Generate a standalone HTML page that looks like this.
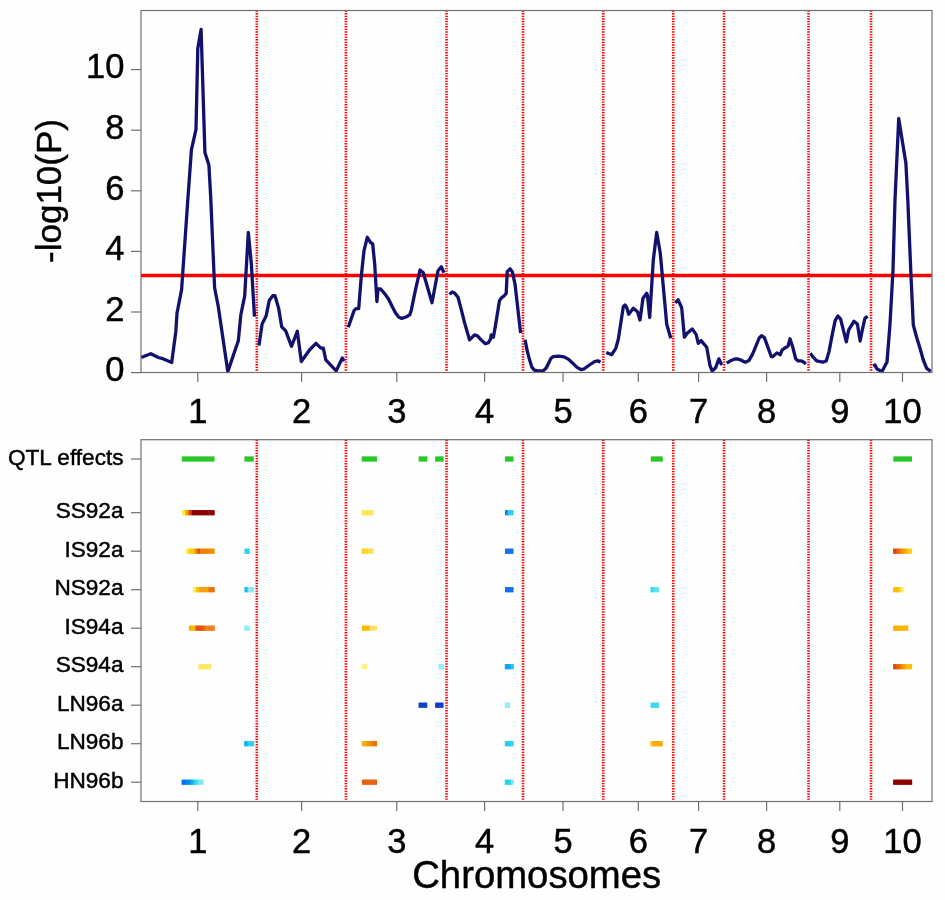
<!DOCTYPE html><html><head><meta charset="utf-8"><style>
html,body{margin:0;padding:0;background:#fefefe;}
svg{display:block;will-change:transform;}
text{font-family:"Liberation Sans", sans-serif;fill:#000;stroke:#000;stroke-width:0.45px;}
</style></head><body>
<svg width="945" height="900" viewBox="0 0 945 900">
<rect x="0" y="0" width="945" height="900" fill="#fefefe"/>
<line x1="256.8" y1="10.5" x2="256.8" y2="372.5" stroke="#f00" stroke-width="2.6" stroke-dasharray="1.35 1.25"/>
<line x1="345.9" y1="10.5" x2="345.9" y2="372.5" stroke="#f00" stroke-width="2.6" stroke-dasharray="1.35 1.25"/>
<line x1="446.5" y1="10.5" x2="446.5" y2="372.5" stroke="#f00" stroke-width="2.6" stroke-dasharray="1.35 1.25"/>
<line x1="523.0" y1="10.5" x2="523.0" y2="372.5" stroke="#f00" stroke-width="2.6" stroke-dasharray="1.35 1.25"/>
<line x1="603.3" y1="10.5" x2="603.3" y2="372.5" stroke="#f00" stroke-width="2.6" stroke-dasharray="1.35 1.25"/>
<line x1="673.2" y1="10.5" x2="673.2" y2="372.5" stroke="#f00" stroke-width="2.6" stroke-dasharray="1.35 1.25"/>
<line x1="724.0" y1="10.5" x2="724.0" y2="372.5" stroke="#f00" stroke-width="2.6" stroke-dasharray="1.35 1.25"/>
<line x1="808.5" y1="10.5" x2="808.5" y2="372.5" stroke="#f00" stroke-width="2.6" stroke-dasharray="1.35 1.25"/>
<line x1="871.0" y1="10.5" x2="871.0" y2="372.5" stroke="#f00" stroke-width="2.6" stroke-dasharray="1.35 1.25"/>
<line x1="141.0" y1="275.5" x2="932.0" y2="275.5" stroke="#ff0000" stroke-width="3.3"/>
<polyline points="141,357.5 150.8,353.7 158.3,357.5 161.7,358.3 171.7,362.5 175.8,331.7 177,313.3 181.6,289.6 187.6,202.8 191.4,149.8 196,129.3 197.8,48.4 201.1,29.5 204.9,152.4 208.9,165 210.7,197.2 214.6,287.7 218.3,306.7 227.8,371.6 238.3,340.8 240.8,315 244.7,295.8 248.3,232.5 251.3,263.3 254.5,316.6" fill="none" stroke="#12126e" stroke-width="3.3" stroke-linejoin="round" stroke-linecap="butt"/>
<polyline points="259,345.5 262.1,324.1 266.1,316.1 269.2,300.6 272.8,295.7 275,295.7 278.6,308.1 281.7,326.8 285.7,330.8 291.5,346.4 297.3,331.3 301.3,361.5 309.9,349.5 316,343.3 320.9,348.2 323.3,348.2 325.8,359.9 336.2,370.9 342.3,358 344.1,361.1" fill="none" stroke="#12126e" stroke-width="3.3" stroke-linejoin="round" stroke-linecap="butt"/>
<polyline points="348.3,327.3 354,310.7 356,308.7 358.7,308.7 361.3,276 364,250.7 367.3,237.3 370.7,242.7 372.7,244 374.7,264 376.9,301.5 378,289 380.6,289 384.8,293.8 388.5,299 392.2,306.5 395.4,312.8 398.6,317 401.7,318.4 406,317 409.7,314.9 411.3,310.2 415.3,290.7 420,270 423.3,272.7 432,302.7 438,270.7 441.3,266.7 444,272.7" fill="none" stroke="#12126e" stroke-width="3.3" stroke-linejoin="round" stroke-linecap="butt"/>
<polyline points="449.5,294.4 452.2,291.9 454.4,292.9 458,297.3 460.9,308.1 464.5,322.5 469.5,339.9 474.6,334.8 477.5,335.9 481.1,339.9 485.4,343.8 488.3,342.8 490.5,339.2 491.2,334.8 493.4,337.3 495.5,325.4 499.5,300.5 502,297.3 504.2,295.8 506.2,293.4 507.2,271.7 510.1,268.8 512.3,271.7 515.1,284.7 520.6,333.1" fill="none" stroke="#12126e" stroke-width="3.3" stroke-linejoin="round" stroke-linecap="butt"/>
<polyline points="525.1,339.7 527,350 529.2,358.6 531.8,367.1 534.3,370.1 537.7,370.9 543.2,370.9 546.2,368 548.7,362.9 550.8,358.6 553,356.7 558.9,356.1 564,356.9 568.2,359.1 572.5,362.9 576.7,367.1 580.9,369.7 584.3,368.8 589.4,365 594.5,361.6 597.9,360.8 600.4,362.2" fill="none" stroke="#12126e" stroke-width="3.3" stroke-linejoin="round" stroke-linecap="butt"/>
<polyline points="606.3,352.5 611.7,354.7 615.8,348.3 618.3,339.2 623.3,306.7 625,305 626.7,307.5 628.7,314.2 633.3,308.3 637.5,311.7 640,320 643,298.3 646.7,293.3 647.5,295.8 649.7,317.5 653.3,260 656.7,232.5 660.3,253.3 666.7,324.2 670.8,338.3" fill="none" stroke="#12126e" stroke-width="3.3" stroke-linejoin="round" stroke-linecap="butt"/>
<polyline points="675.2,302.8 678.1,299.8 681.7,307.8 684.4,337.2 687.2,333.3 692.2,328.9 696.1,334.4 698.3,343.3 701.1,340.6 706.7,347.2 710,365.6 712.2,371.1 715.6,367.8 718.9,358.9 721.7,365" fill="none" stroke="#12126e" stroke-width="3.3" stroke-linejoin="round" stroke-linecap="butt"/>
<polyline points="726.7,363.2 730.4,360.8 735,359 737.8,359 741.6,360.4 745.3,362.2 749,360.4 752.7,353.9 756.5,344.6 759.2,338 761.6,335.6 764.4,337.6 767.6,346.4 771.3,356.7 772.7,356.7 776.9,352.9 780.2,354.8 782.1,350.1 784.4,348.3 786.2,347.3 788.1,346 790,338.8 792.8,347.3 795.6,358.5 797.9,360.8 801.1,360.8 803.9,362.2 805.8,364.1" fill="none" stroke="#12126e" stroke-width="3.3" stroke-linejoin="round" stroke-linecap="butt"/>
<polyline points="810.3,353.3 813,356.9 816.6,360.9 822.8,362.2 826.3,360.9 829,351.6 832.6,332.9 835.2,320.4 837.9,316 840.6,319.1 843.2,329.3 846.3,341.9 848.6,330.2 853.9,321.3 857.4,324 860.1,341 862.8,327.6 865,318.2 867.7,316.4" fill="none" stroke="#12126e" stroke-width="3.3" stroke-linejoin="round" stroke-linecap="butt"/>
<polyline points="873,366 875,365 877,369 882,371.6 887,362 890,324 893,270 895,200 898.7,118.5 905.9,163.3 907.8,200 911,276 913.3,325 916.7,337.5 920,348.3 923.3,360 926.7,368.3 930.8,371.3" fill="none" stroke="#12126e" stroke-width="3.3" stroke-linejoin="round" stroke-linecap="butt"/>
<rect x="141.0" y="10.5" width="791.0" height="362.0" fill="none" stroke="#707070" stroke-width="1.2"/>
<line x1="131" y1="372.6" x2="141.0" y2="372.6" stroke="#707070" stroke-width="1.2"/>
<text x="124.4" y="381.4" font-size="34.5" text-anchor="end">0</text>
<line x1="131" y1="312.0" x2="141.0" y2="312.0" stroke="#707070" stroke-width="1.2"/>
<text x="124.4" y="320.8" font-size="34.5" text-anchor="end">2</text>
<line x1="131" y1="251.4" x2="141.0" y2="251.4" stroke="#707070" stroke-width="1.2"/>
<text x="124.4" y="260.2" font-size="34.5" text-anchor="end">4</text>
<line x1="131" y1="190.8" x2="141.0" y2="190.8" stroke="#707070" stroke-width="1.2"/>
<text x="124.4" y="199.6" font-size="34.5" text-anchor="end">6</text>
<line x1="131" y1="130.2" x2="141.0" y2="130.2" stroke="#707070" stroke-width="1.2"/>
<text x="124.4" y="139.0" font-size="34.5" text-anchor="end">8</text>
<line x1="131" y1="69.6" x2="141.0" y2="69.6" stroke="#707070" stroke-width="1.2"/>
<text x="124.4" y="78.4" font-size="34.5" text-anchor="end">10</text>
<line x1="197.8" y1="372.5" x2="197.8" y2="382" stroke="#707070" stroke-width="1.2"/>
<text x="197.8" y="423.3" font-size="34.5" text-anchor="middle">1</text>
<line x1="301.6" y1="372.5" x2="301.6" y2="382" stroke="#707070" stroke-width="1.2"/>
<text x="301.6" y="423.3" font-size="34.5" text-anchor="middle">2</text>
<line x1="396.8" y1="372.5" x2="396.8" y2="382" stroke="#707070" stroke-width="1.2"/>
<text x="396.8" y="423.3" font-size="34.5" text-anchor="middle">3</text>
<line x1="484.6" y1="372.5" x2="484.6" y2="382" stroke="#707070" stroke-width="1.2"/>
<text x="484.6" y="423.3" font-size="34.5" text-anchor="middle">4</text>
<line x1="563.0" y1="372.5" x2="563.0" y2="382" stroke="#707070" stroke-width="1.2"/>
<text x="563.0" y="423.3" font-size="34.5" text-anchor="middle">5</text>
<line x1="638.3" y1="372.5" x2="638.3" y2="382" stroke="#707070" stroke-width="1.2"/>
<text x="638.3" y="423.3" font-size="34.5" text-anchor="middle">6</text>
<line x1="698.6" y1="372.5" x2="698.6" y2="382" stroke="#707070" stroke-width="1.2"/>
<text x="698.6" y="423.3" font-size="34.5" text-anchor="middle">7</text>
<line x1="766.6" y1="372.5" x2="766.6" y2="382" stroke="#707070" stroke-width="1.2"/>
<text x="766.6" y="423.3" font-size="34.5" text-anchor="middle">8</text>
<line x1="839.8" y1="372.5" x2="839.8" y2="382" stroke="#707070" stroke-width="1.2"/>
<text x="839.8" y="423.3" font-size="34.5" text-anchor="middle">9</text>
<line x1="902.5" y1="372.5" x2="902.5" y2="382" stroke="#707070" stroke-width="1.2"/>
<text x="902.5" y="423.3" font-size="34.5" text-anchor="middle">10</text>
<text transform="translate(61,191) rotate(-90)" font-size="35" text-anchor="middle">-log10(P)</text>
<line x1="256.8" y1="439.7" x2="256.8" y2="801.5" stroke="#f00" stroke-width="2.6" stroke-dasharray="1.35 1.25"/>
<line x1="345.9" y1="439.7" x2="345.9" y2="801.5" stroke="#f00" stroke-width="2.6" stroke-dasharray="1.35 1.25"/>
<line x1="446.5" y1="439.7" x2="446.5" y2="801.5" stroke="#f00" stroke-width="2.6" stroke-dasharray="1.35 1.25"/>
<line x1="523.0" y1="439.7" x2="523.0" y2="801.5" stroke="#f00" stroke-width="2.6" stroke-dasharray="1.35 1.25"/>
<line x1="603.3" y1="439.7" x2="603.3" y2="801.5" stroke="#f00" stroke-width="2.6" stroke-dasharray="1.35 1.25"/>
<line x1="673.2" y1="439.7" x2="673.2" y2="801.5" stroke="#f00" stroke-width="2.6" stroke-dasharray="1.35 1.25"/>
<line x1="724.0" y1="439.7" x2="724.0" y2="801.5" stroke="#f00" stroke-width="2.6" stroke-dasharray="1.35 1.25"/>
<line x1="808.5" y1="439.7" x2="808.5" y2="801.5" stroke="#f00" stroke-width="2.6" stroke-dasharray="1.35 1.25"/>
<line x1="871.0" y1="439.7" x2="871.0" y2="801.5" stroke="#f00" stroke-width="2.6" stroke-dasharray="1.35 1.25"/>
<rect x="181.80" y="456.35" width="32.70" height="5.30" fill="#2ac62a"/>
<rect x="244.40" y="456.35" width="9.40" height="5.30" fill="#2ac62a"/>
<rect x="361.70" y="456.35" width="15.30" height="5.30" fill="#2ac62a"/>
<rect x="418.60" y="456.35" width="8.80" height="5.30" fill="#2ac62a"/>
<rect x="435.10" y="456.35" width="8.60" height="5.30" fill="#2ac62a"/>
<rect x="505.00" y="456.35" width="8.60" height="5.30" fill="#2ac62a"/>
<rect x="650.80" y="456.35" width="12.00" height="5.30" fill="#2ac62a"/>
<rect x="893.30" y="456.35" width="18.70" height="5.30" fill="#2ac62a"/>
<rect x="182.00" y="510.05" width="3.87" height="5.30" fill="#f8ec50"/>
<rect x="185.27" y="510.05" width="3.87" height="5.30" fill="#f5a000"/>
<rect x="188.54" y="510.05" width="3.87" height="5.30" fill="#d84010"/>
<rect x="191.81" y="510.05" width="3.87" height="5.30" fill="#8c0000"/>
<rect x="195.08" y="510.05" width="3.87" height="5.30" fill="#8a0000"/>
<rect x="198.35" y="510.05" width="3.87" height="5.30" fill="#8a0000"/>
<rect x="201.62" y="510.05" width="3.87" height="5.30" fill="#900000"/>
<rect x="204.89" y="510.05" width="3.87" height="5.30" fill="#8c0000"/>
<rect x="208.16" y="510.05" width="3.87" height="5.30" fill="#960808"/>
<rect x="211.43" y="510.05" width="3.27" height="5.30" fill="#8c0000"/>
<rect x="361.70" y="510.05" width="4.60" height="5.30" fill="#ffe850"/>
<rect x="365.70" y="510.05" width="4.60" height="5.30" fill="#ffe850"/>
<rect x="369.70" y="510.05" width="4.00" height="5.30" fill="#ffe860"/>
<rect x="505.00" y="510.05" width="3.47" height="5.30" fill="#1088f0"/>
<rect x="507.87" y="510.05" width="3.47" height="5.30" fill="#30d0f0"/>
<rect x="510.73" y="510.05" width="2.87" height="5.30" fill="#30d0f0"/>
<rect x="185.50" y="548.55" width="3.52" height="5.30" fill="#fff060"/>
<rect x="188.42" y="548.55" width="3.52" height="5.30" fill="#f8d000"/>
<rect x="191.34" y="548.55" width="3.52" height="5.30" fill="#f8d000"/>
<rect x="194.26" y="548.55" width="3.52" height="5.30" fill="#f09000"/>
<rect x="197.18" y="548.55" width="3.52" height="5.30" fill="#e05000"/>
<rect x="200.10" y="548.55" width="3.52" height="5.30" fill="#f08000"/>
<rect x="203.02" y="548.55" width="3.52" height="5.30" fill="#f08000"/>
<rect x="205.94" y="548.55" width="3.52" height="5.30" fill="#f08000"/>
<rect x="208.86" y="548.55" width="3.52" height="5.30" fill="#f09000"/>
<rect x="211.78" y="548.55" width="2.92" height="5.30" fill="#f09000"/>
<rect x="244.40" y="548.55" width="3.25" height="5.30" fill="#30d0f0"/>
<rect x="247.05" y="548.55" width="2.65" height="5.30" fill="#30d0f0"/>
<rect x="361.70" y="548.55" width="3.60" height="5.30" fill="#ffd020"/>
<rect x="364.70" y="548.55" width="3.60" height="5.30" fill="#ffd830"/>
<rect x="367.70" y="548.55" width="3.60" height="5.30" fill="#ffe050"/>
<rect x="370.70" y="548.55" width="3.00" height="5.30" fill="#ffe050"/>
<rect x="505.00" y="548.55" width="3.47" height="5.30" fill="#1070f0"/>
<rect x="507.87" y="548.55" width="3.47" height="5.30" fill="#1070f0"/>
<rect x="510.73" y="548.55" width="2.87" height="5.30" fill="#1478f0"/>
<rect x="893.10" y="548.55" width="3.78" height="5.30" fill="#e04000"/>
<rect x="896.28" y="548.55" width="3.78" height="5.30" fill="#e86010"/>
<rect x="899.47" y="548.55" width="3.78" height="5.30" fill="#f08010"/>
<rect x="902.65" y="548.55" width="3.78" height="5.30" fill="#f8a000"/>
<rect x="905.83" y="548.55" width="3.78" height="5.30" fill="#f8c000"/>
<rect x="909.02" y="548.55" width="3.18" height="5.30" fill="#f8d020"/>
<rect x="192.90" y="587.05" width="3.71" height="5.30" fill="#fff060"/>
<rect x="196.01" y="587.05" width="3.71" height="5.30" fill="#f8c000"/>
<rect x="199.13" y="587.05" width="3.71" height="5.30" fill="#f8a000"/>
<rect x="202.24" y="587.05" width="3.71" height="5.30" fill="#f8a000"/>
<rect x="205.36" y="587.05" width="3.71" height="5.30" fill="#f8a000"/>
<rect x="208.47" y="587.05" width="3.71" height="5.30" fill="#f07000"/>
<rect x="211.59" y="587.05" width="3.11" height="5.30" fill="#f07000"/>
<rect x="244.40" y="587.05" width="3.87" height="5.30" fill="#10c0f0"/>
<rect x="247.67" y="587.05" width="3.87" height="5.30" fill="#90e8f8"/>
<rect x="250.93" y="587.05" width="3.27" height="5.30" fill="#90e8f8"/>
<rect x="505.00" y="587.05" width="3.47" height="5.30" fill="#1070f0"/>
<rect x="507.87" y="587.05" width="3.47" height="5.30" fill="#1070f0"/>
<rect x="510.73" y="587.05" width="2.87" height="5.30" fill="#1070f0"/>
<rect x="650.50" y="587.05" width="3.47" height="5.30" fill="#30d8f0"/>
<rect x="653.37" y="587.05" width="3.47" height="5.30" fill="#60e0f0"/>
<rect x="656.23" y="587.05" width="2.87" height="5.30" fill="#60e0f0"/>
<rect x="893.10" y="587.05" width="3.42" height="5.30" fill="#f8c000"/>
<rect x="895.92" y="587.05" width="3.42" height="5.30" fill="#f8c000"/>
<rect x="898.75" y="587.05" width="3.42" height="5.30" fill="#f8d840"/>
<rect x="901.58" y="587.05" width="2.82" height="5.30" fill="#fff090"/>
<rect x="188.90" y="625.55" width="3.85" height="5.30" fill="#f5b800"/>
<rect x="192.15" y="625.55" width="3.85" height="5.30" fill="#f5b800"/>
<rect x="195.40" y="625.55" width="3.85" height="5.30" fill="#e05010"/>
<rect x="198.65" y="625.55" width="3.85" height="5.30" fill="#e05010"/>
<rect x="201.90" y="625.55" width="3.85" height="5.30" fill="#e86010"/>
<rect x="205.15" y="625.55" width="3.85" height="5.30" fill="#f08020"/>
<rect x="208.40" y="625.55" width="3.85" height="5.30" fill="#f08020"/>
<rect x="211.65" y="625.55" width="3.25" height="5.30" fill="#f08020"/>
<rect x="244.20" y="625.55" width="3.35" height="5.30" fill="#90eef8"/>
<rect x="246.95" y="625.55" width="2.75" height="5.30" fill="#90eef8"/>
<rect x="361.90" y="625.55" width="4.40" height="5.30" fill="#f8b800"/>
<rect x="365.70" y="625.55" width="4.40" height="5.30" fill="#f8b800"/>
<rect x="369.50" y="625.55" width="4.40" height="5.30" fill="#ffe070"/>
<rect x="373.30" y="625.55" width="3.80" height="5.30" fill="#ffe070"/>
<rect x="893.10" y="625.55" width="3.64" height="5.30" fill="#f8b000"/>
<rect x="896.14" y="625.55" width="3.64" height="5.30" fill="#f8b000"/>
<rect x="899.18" y="625.55" width="3.64" height="5.30" fill="#f8b800"/>
<rect x="902.22" y="625.55" width="3.64" height="5.30" fill="#f8b800"/>
<rect x="905.26" y="625.55" width="3.04" height="5.30" fill="#f8b800"/>
<rect x="198.40" y="664.05" width="3.83" height="5.30" fill="#ffe860"/>
<rect x="201.62" y="664.05" width="3.83" height="5.30" fill="#ffe860"/>
<rect x="204.85" y="664.05" width="3.83" height="5.30" fill="#ffe860"/>
<rect x="208.08" y="664.05" width="3.23" height="5.30" fill="#ffe860"/>
<rect x="361.90" y="664.05" width="3.25" height="5.30" fill="#fff080"/>
<rect x="364.55" y="664.05" width="2.65" height="5.30" fill="#fff080"/>
<rect x="438.50" y="664.05" width="3.45" height="5.30" fill="#90f0f8"/>
<rect x="441.35" y="664.05" width="2.85" height="5.30" fill="#90f0f8"/>
<rect x="504.80" y="664.05" width="3.63" height="5.30" fill="#10a8f0"/>
<rect x="507.83" y="664.05" width="3.63" height="5.30" fill="#10a8f0"/>
<rect x="510.87" y="664.05" width="3.03" height="5.30" fill="#30c0f0"/>
<rect x="893.10" y="664.05" width="3.78" height="5.30" fill="#e04800"/>
<rect x="896.28" y="664.05" width="3.78" height="5.30" fill="#e86000"/>
<rect x="899.47" y="664.05" width="3.78" height="5.30" fill="#f08000"/>
<rect x="902.65" y="664.05" width="3.78" height="5.30" fill="#f8a000"/>
<rect x="905.83" y="664.05" width="3.78" height="5.30" fill="#f8c000"/>
<rect x="909.02" y="664.05" width="3.18" height="5.30" fill="#f8c000"/>
<rect x="418.50" y="702.55" width="3.53" height="5.30" fill="#1040c8"/>
<rect x="421.43" y="702.55" width="3.53" height="5.30" fill="#1040c8"/>
<rect x="424.37" y="702.55" width="2.93" height="5.30" fill="#1040c8"/>
<rect x="435.10" y="702.55" width="3.43" height="5.30" fill="#1040c8"/>
<rect x="437.93" y="702.55" width="3.43" height="5.30" fill="#1040c8"/>
<rect x="440.77" y="702.55" width="2.83" height="5.30" fill="#1040c8"/>
<rect x="504.80" y="702.55" width="3.25" height="5.30" fill="#90f0f8"/>
<rect x="507.45" y="702.55" width="2.65" height="5.30" fill="#90f0f8"/>
<rect x="650.50" y="702.55" width="3.47" height="5.30" fill="#40d8f0"/>
<rect x="653.37" y="702.55" width="3.47" height="5.30" fill="#40d8f0"/>
<rect x="656.23" y="702.55" width="2.87" height="5.30" fill="#40d8f0"/>
<rect x="244.20" y="741.05" width="3.90" height="5.30" fill="#10b0f0"/>
<rect x="247.50" y="741.05" width="3.90" height="5.30" fill="#30d0f0"/>
<rect x="250.80" y="741.05" width="3.30" height="5.30" fill="#30d0f0"/>
<rect x="361.90" y="741.05" width="4.40" height="5.30" fill="#f8b000"/>
<rect x="365.70" y="741.05" width="4.40" height="5.30" fill="#f89800"/>
<rect x="369.50" y="741.05" width="4.40" height="5.30" fill="#f08000"/>
<rect x="373.30" y="741.05" width="3.80" height="5.30" fill="#f07000"/>
<rect x="504.80" y="741.05" width="3.63" height="5.30" fill="#20d0f0"/>
<rect x="507.83" y="741.05" width="3.63" height="5.30" fill="#20d0f0"/>
<rect x="510.87" y="741.05" width="3.03" height="5.30" fill="#40d8f0"/>
<rect x="650.50" y="741.05" width="3.65" height="5.30" fill="#f8c000"/>
<rect x="653.55" y="741.05" width="3.65" height="5.30" fill="#f8a800"/>
<rect x="656.60" y="741.05" width="3.65" height="5.30" fill="#f8a800"/>
<rect x="659.65" y="741.05" width="3.05" height="5.30" fill="#f8a800"/>
<rect x="181.60" y="779.55" width="3.74" height="5.30" fill="#0070f0"/>
<rect x="184.74" y="779.55" width="3.74" height="5.30" fill="#0080f0"/>
<rect x="187.89" y="779.55" width="3.74" height="5.30" fill="#0090f0"/>
<rect x="191.03" y="779.55" width="3.74" height="5.30" fill="#10b8f0"/>
<rect x="194.17" y="779.55" width="3.74" height="5.30" fill="#30d8f0"/>
<rect x="197.31" y="779.55" width="3.74" height="5.30" fill="#70e8f0"/>
<rect x="200.46" y="779.55" width="3.14" height="5.30" fill="#80ecf0"/>
<rect x="361.90" y="779.55" width="4.40" height="5.30" fill="#e86010"/>
<rect x="365.70" y="779.55" width="4.40" height="5.30" fill="#e86010"/>
<rect x="369.50" y="779.55" width="4.40" height="5.30" fill="#e86010"/>
<rect x="373.30" y="779.55" width="3.80" height="5.30" fill="#e86010"/>
<rect x="504.80" y="779.55" width="3.63" height="5.30" fill="#20d8f0"/>
<rect x="507.83" y="779.55" width="3.63" height="5.30" fill="#20d8f0"/>
<rect x="510.87" y="779.55" width="3.03" height="5.30" fill="#80e8f8"/>
<rect x="893.10" y="779.55" width="3.78" height="5.30" fill="#8c0000"/>
<rect x="896.28" y="779.55" width="3.78" height="5.30" fill="#8c0000"/>
<rect x="899.47" y="779.55" width="3.78" height="5.30" fill="#8c0000"/>
<rect x="902.65" y="779.55" width="3.78" height="5.30" fill="#8c0000"/>
<rect x="905.83" y="779.55" width="3.78" height="5.30" fill="#8c0000"/>
<rect x="909.02" y="779.55" width="3.18" height="5.30" fill="#8c0000"/>
<rect x="141.0" y="439.7" width="791.0" height="361.8" fill="none" stroke="#707070" stroke-width="1.2"/>
<line x1="131" y1="459.0" x2="141.0" y2="459.0" stroke="#707070" stroke-width="1.2"/>
<text x="123.5" y="464.6" font-size="22.6" text-anchor="end">QTL effects</text>
<line x1="131" y1="512.7" x2="141.0" y2="512.7" stroke="#707070" stroke-width="1.2"/>
<text x="123.5" y="518.3" font-size="22.6" text-anchor="end">SS92a</text>
<line x1="131" y1="551.2" x2="141.0" y2="551.2" stroke="#707070" stroke-width="1.2"/>
<text x="123.5" y="556.8" font-size="22.6" text-anchor="end">IS92a</text>
<line x1="131" y1="589.7" x2="141.0" y2="589.7" stroke="#707070" stroke-width="1.2"/>
<text x="123.5" y="595.3" font-size="22.6" text-anchor="end">NS92a</text>
<line x1="131" y1="628.2" x2="141.0" y2="628.2" stroke="#707070" stroke-width="1.2"/>
<text x="123.5" y="633.8" font-size="22.6" text-anchor="end">IS94a</text>
<line x1="131" y1="666.7" x2="141.0" y2="666.7" stroke="#707070" stroke-width="1.2"/>
<text x="123.5" y="672.3" font-size="22.6" text-anchor="end">SS94a</text>
<line x1="131" y1="705.2" x2="141.0" y2="705.2" stroke="#707070" stroke-width="1.2"/>
<text x="123.5" y="710.8" font-size="22.6" text-anchor="end">LN96a</text>
<line x1="131" y1="743.7" x2="141.0" y2="743.7" stroke="#707070" stroke-width="1.2"/>
<text x="123.5" y="749.3" font-size="22.6" text-anchor="end">LN96b</text>
<line x1="131" y1="782.2" x2="141.0" y2="782.2" stroke="#707070" stroke-width="1.2"/>
<text x="123.5" y="787.8" font-size="22.6" text-anchor="end">HN96b</text>
<line x1="197.8" y1="801.5" x2="197.8" y2="811" stroke="#707070" stroke-width="1.2"/>
<text x="197.8" y="852.6" font-size="34.5" text-anchor="middle">1</text>
<line x1="301.6" y1="801.5" x2="301.6" y2="811" stroke="#707070" stroke-width="1.2"/>
<text x="301.6" y="852.6" font-size="34.5" text-anchor="middle">2</text>
<line x1="396.8" y1="801.5" x2="396.8" y2="811" stroke="#707070" stroke-width="1.2"/>
<text x="396.8" y="852.6" font-size="34.5" text-anchor="middle">3</text>
<line x1="484.6" y1="801.5" x2="484.6" y2="811" stroke="#707070" stroke-width="1.2"/>
<text x="484.6" y="852.6" font-size="34.5" text-anchor="middle">4</text>
<line x1="563.0" y1="801.5" x2="563.0" y2="811" stroke="#707070" stroke-width="1.2"/>
<text x="563.0" y="852.6" font-size="34.5" text-anchor="middle">5</text>
<line x1="638.3" y1="801.5" x2="638.3" y2="811" stroke="#707070" stroke-width="1.2"/>
<text x="638.3" y="852.6" font-size="34.5" text-anchor="middle">6</text>
<line x1="698.6" y1="801.5" x2="698.6" y2="811" stroke="#707070" stroke-width="1.2"/>
<text x="698.6" y="852.6" font-size="34.5" text-anchor="middle">7</text>
<line x1="766.6" y1="801.5" x2="766.6" y2="811" stroke="#707070" stroke-width="1.2"/>
<text x="766.6" y="852.6" font-size="34.5" text-anchor="middle">8</text>
<line x1="839.8" y1="801.5" x2="839.8" y2="811" stroke="#707070" stroke-width="1.2"/>
<text x="839.8" y="852.6" font-size="34.5" text-anchor="middle">9</text>
<line x1="902.5" y1="801.5" x2="902.5" y2="811" stroke="#707070" stroke-width="1.2"/>
<text x="902.5" y="852.6" font-size="34.5" text-anchor="middle">10</text>
<text x="536.7" y="887.6" font-size="38.3" text-anchor="middle">Chromosomes</text>
</svg></body></html>
